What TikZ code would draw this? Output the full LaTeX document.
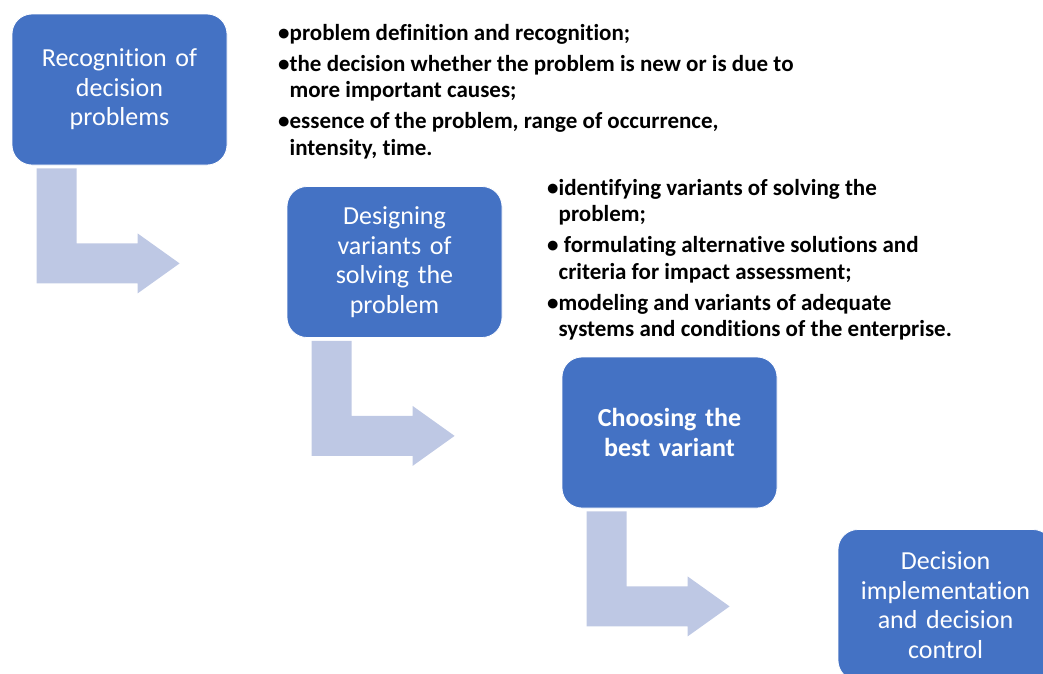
\documentclass[tikz,border=0pt]{standalone}
\usepackage{fontspec}
\setmainfont{Carlito}[Ligatures=NoCommon]
\usetikzlibrary{calc}
\usepackage{tkz-euclide}
\definecolor{BoxClr}{rgb}{0.26666666666666666,0.4470588235294118,0.7686274509803922}
\definecolor{ArrowClr}{rgb}{0.7450980392156863,0.7843137254901961,0.8941176470588236}
\newcommand\bulcont{\phantom{\textbullet}}

\begin{document}
\begin{tikzpicture}[x=1pt,y=-1pt,
  stage/.style={rectangle,rounded corners=20pt,fill=BoxClr,draw=white,line width=.8pt,
    minimum width=215pt,minimum height=151pt,text width=205pt,align=center,
    text=white,font=\fontsize{26}{29.5}\selectfont},
  bendarrow/.style={fill=ArrowClr},
  notes/.style={anchor=north west,inner sep=0pt,align=left,
    font=\bfseries\fontsize{23}{26.5}\selectfont}]
\useasboundingbox (0,0) rectangle (1043,673);

\tkzDefPoints{119.5/89.5/R,394.5/262/D,669.5/432.5/C,945.5/605/I}

\node[stage] (rec) at (R) {Recognition of\\ decision\\ problems};
\node[stage] (des) at (D) {Designing\\ variants of\\ solving the\\ problem};
\node[stage,font=\bfseries\fontsize{26}{29.5}\selectfont] (cho) at (C) {Choosing the\\ best variant};
\node[stage] (imp) at (I) {Decision\\ implementation\\ and decision\\ control};

\foreach \s in {rec,des,cho}
  \fill[bendarrow] ($(\s.south west)+(25,3)$) -- ++(40,0) -- ++(0,75) -- ++(61,0)
    -- ++(0,-10) -- ++(42,30) -- ++(-42,30) -- ++(0,-10) -- ++(-101,0) -- cycle;

\node[notes] (recnotes) at (278,24) {\textbullet problem definition and recognition;\\[4.5pt]
  \textbullet the decision whether the problem is new or is due to\\
  \bulcont more important causes;\\[4.5pt]
  \textbullet essence of the problem, range of occurrence,\\
  \bulcont intensity, time.};

\node[notes] (desnotes) at (547,179) {\textbullet identifying variants of solving the\\
  \bulcont problem;\\[4.5pt]
  \textbullet{} formulating alternative solutions and\\
  \bulcont criteria for impact assessment;\\[4.5pt]
  \textbullet modeling and variants of adequate\\
  \bulcont systems and conditions of the enterprise.};

\end{tikzpicture}
\end{document}
